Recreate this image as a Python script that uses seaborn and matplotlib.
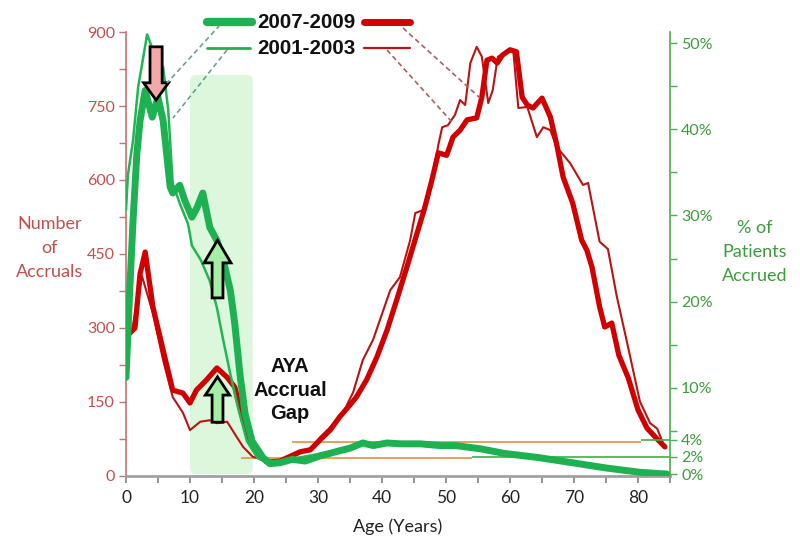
import numpy as np
import pandas as pd
import matplotlib
matplotlib.use("Agg")
import matplotlib.pyplot as plt
import seaborn as sns
from matplotlib.lines import Line2D
from matplotlib.patches import FancyArrow, FancyBboxPatch

# ---------------- data ----------------
# Number of accruals (left axis), 2007-2009 (thick red)
red_0709_age = [0, 1.1, 1.4, 2.2, 3.0, 4.2, 5.8, 7.3, 8.9, 10.0, 11.0, 12.6, 14.2, 15.8, 17.0,
                18.3, 19.8, 22.0, 24.0, 27.2, 28.8, 30.3, 31.9, 33.4, 35.0, 36.0, 37.6, 39.2,
                40.8, 42.3, 43.9, 45.5, 46.7, 47.8, 48.8, 50.1, 51.1, 52.2, 53.3, 54.8, 55.6,
                56.4, 57.2, 58.0, 58.8, 60.0, 61.0, 61.9, 62.7, 63.6, 65.0, 66.3, 67.3, 68.3,
                69.8, 71.2, 72.0, 72.8, 74.0, 74.8, 75.9, 77.0, 78.5, 80.0, 81.4, 82.7, 84.2]
red_0709_n = [282, 296, 300, 410, 454, 343, 255, 174, 168, 148, 174, 195, 219, 200, 180,
              113, 59, 28, 30, 49, 53, 73, 93, 120, 144, 160, 195, 241,
              296, 357, 424, 493, 545, 600, 655, 650, 687, 701, 722, 726, 768,
              843, 847, 837, 853, 864, 860, 768, 752, 746, 766, 728, 672, 606,
              553, 478, 458, 424, 343, 302, 310, 245, 198, 134, 97, 79, 59]

# Number of accruals (left axis), 2001-2003 (thin red)
red_0103_age = [0, 1.0, 2.5, 4.2, 5.8, 7.3, 8.9, 10.0, 11.6, 13.1, 14.2, 15.8, 17.3, 18.3,
                19.8, 21.7, 24.0, 27.0, 29.0, 30.3, 32.0, 34.0, 35.5, 37.0, 38.6, 41.3, 42.8,
                44.4, 45.2, 46.4, 47.2, 47.8, 48.8, 49.4, 50.3, 51.4, 52.2, 53.0, 53.8, 54.8,
                55.6, 56.6, 57.3, 58.1, 59.5, 60.5, 61.3, 62.7, 64.2, 65.2, 66.3, 67.3, 69.4,
                71.4, 72.2, 74.0, 75.3, 76.7, 78.2, 80.3, 81.9, 83.0, 83.9]
red_0103_n = [280, 300, 405, 330, 235, 160, 128, 93, 110, 113, 107, 110, 79, 59,
              39, 32, 28, 45, 58, 78, 100, 130, 170, 235, 276, 377, 403,
              478, 533, 539, 560, 600, 671, 707, 711, 732, 762, 752, 837, 870,
              850, 756, 782, 850, 860, 864, 746, 748, 687, 707, 701, 667, 634,
              590, 594, 475, 460, 363, 276, 151, 107, 96, 67]

# % of patients accrued (right axis), 2007-2009 (thick green)
grn_0709_age = [0, 0.6, 1.1, 1.7, 2.2, 3.0, 4.1, 5.0, 5.8, 6.9, 7.3, 8.4, 9.2, 10.3, 11.1,
                12.0, 13.1, 14.2, 15.2, 16.3, 17.0, 17.8, 18.6, 19.7, 21.4, 22.5, 24.0, 26.0,
                28.0, 30.3, 31.9, 33.4, 35.0, 37.0, 38.6, 40.8, 42.8, 46.0, 49.0, 51.5, 55.6,
                59.0, 64.5, 69.8, 75.0, 80.3, 83.3, 84.5]
grn_0709_pct = [11.2, 21.6, 29.4, 37.2, 41.0, 44.5, 41.4, 43.7, 41.0, 33.3, 32.6, 33.5, 31.7,
                29.8, 30.9, 32.6, 28.6, 27.1, 24.8, 21.3, 17.4, 11.6, 7.0, 3.8, 1.9, 1.2, 1.3,
                1.7, 1.5, 2.1, 2.4, 2.7, 3.0, 3.6, 3.3, 3.6, 3.5, 3.5, 3.3, 3.3, 2.9,
                2.4, 1.9, 1.3, 0.7, 0.2, 0.05, 0.0]

# % of patients accrued (right axis), 2001-2003 (thin green)
grn_0103_age = [0, 0.3, 1.1, 1.9, 3.3, 4.5, 5.8, 6.6, 7.3, 8.4, 9.7, 10.3, 11.7, 13.1, 14.2,
                15.2, 16.3, 17.5, 18.9, 20.5, 22.0, 24.0, 27.0, 30.0, 33.0, 36.0, 40.0, 43.0,
                47.0, 52.0, 56.0, 60.0, 65.0, 70.0, 75.0, 80.0, 84.0]
grn_0103_pct = [30.6, 34.7, 38.7, 44.9, 51.0, 48.6, 47.2, 42.2, 33.7, 31.4, 29.0, 26.5, 24.8,
                22.4, 19.3, 15.5, 11.6, 7.7, 3.8, 1.9, 1.3, 1.2, 1.9, 2.3, 2.8, 3.3, 3.7, 3.7,
                3.4, 3.1, 2.7, 2.3, 1.8, 1.3, 0.8, 0.2, 0.0]

x_ticks = list(range(0, 86, 5))
x_labels = [str(t) if t % 10 == 0 else "" for t in x_ticks]
left_ticks = list(range(0, 901, 75))
left_labels = [str(t) if t % 150 == 0 else "" for t in left_ticks]
right_ticks = [0, 2, 4, 10, 20, 30, 40, 50]
right_labels = [f"{t}%" for t in right_ticks]
right_minor = [5, 15, 25, 35, 45]

legend_labels = ["2007-2009", "2001-2003"]

# ---------------- style ----------------
sns.set_style("white")
plt.rcParams['font.family'] = ['Lato', 'DejaVu Sans']

RED = "#d00000"
RED_THIN = "#b81414"
GREEN = "#1db152"
GREEN_THIN = "#22b455"
RED_TXT = "#c0504d"
GREEN_TXT = "#3d9b3d"

fig = plt.figure(figsize=(8, 5.49), dpi=100)
ax = fig.add_axes([0.1575, 0.1330, 0.68, 0.8087])
ax.set_xlim(0, 85)
ax.set_ylim(0, 900)

# shaded AYA region
shade = FancyBboxPatch((10, 4), 9.8, 809, boxstyle="round,pad=0,rounding_size=0.9",
                       mutation_aspect=13, fc="#dcf7dc", ec="none", zorder=0)
ax.add_patch(shade)

# reference lines
ax.hlines(69, 26, 80.5, color="#e8903a", lw=1.2, zorder=1)
ax.hlines(36, 18, 54, color="#e8903a", lw=1.2, zorder=1)

df_r1 = pd.DataFrame({"age": red_0709_age, "n": red_0709_n})
df_r2 = pd.DataFrame({"age": red_0103_age, "n": red_0103_n})
sns.lineplot(data=df_r2, x="age", y="n", ax=ax, color=RED_THIN, lw=1.5, sort=False,
             estimator=None, zorder=3)
sns.lineplot(data=df_r1, x="age", y="n", ax=ax, color=RED, lw=3.8, sort=False,
             estimator=None, zorder=4, solid_joinstyle="round")

ax2 = ax.twinx()
ax2.set_ylim(-0.23, 51.28)
ax2.set_xlim(0, 85)
ax2.hlines([4], 80.5, 85, color="#3cb04a", lw=1.2, zorder=1)
ax2.hlines([2], 54, 85, color="#3cb04a", lw=1.2, zorder=1)
df_g1 = pd.DataFrame({"age": grn_0709_age, "p": grn_0709_pct})
df_g2 = pd.DataFrame({"age": grn_0103_age, "p": grn_0103_pct})
sns.lineplot(data=df_g2, x="age", y="p", ax=ax2, color=GREEN_THIN, lw=1.8, sort=False,
             estimator=None, zorder=3)
sns.lineplot(data=df_g1, x="age", y="p", ax=ax2, color=GREEN, lw=5.0, sort=False,
             estimator=None, zorder=4, solid_joinstyle="round")

# arrows (on top), positioned in left-axis units converted to the right axis
def to_pct(v):
    return v / 900 * 51.51 - 0.23


arrow_kw = dict(length_includes_head=True, lw=2, ec="black", zorder=10)
ax2.add_patch(FancyArrow(4.7, to_pct(870), 0, to_pct(762) - to_pct(870),
                         width=1.9, head_width=3.9, head_length=35 / 900 * 51.51,
                         fc="#f4a9a8", **arrow_kw))
ax2.add_patch(FancyArrow(14.3, to_pct(361), 0, to_pct(478) - to_pct(361),
                         width=1.7, head_width=4.2, head_length=46 / 900 * 51.51,
                         fc="#a6eea6", **arrow_kw))
ax2.add_patch(FancyArrow(14.3, to_pct(109), 0, to_pct(201) - to_pct(109),
                         width=1.7, head_width=3.8, head_length=37 / 900 * 51.51,
                         fc="#a6eea6", **arrow_kw))

ax2.text(25.6, to_pct(174), "AYA\nAccrual\nGap", ha="center", va="center",
         fontsize=14.5, fontweight="bold", family=["Liberation Sans", "DejaVu Sans"],
         linespacing=1.3, color="#111111", zorder=11)

# ---------------- axes styling ----------------
for a in (ax, ax2):
    a.set_xlabel("")
    a.set_ylabel("")
    a.spines["top"].set_visible(False)

ax.spines["right"].set_visible(False)
ax.spines["left"].set_color("#c87070")
ax.spines["left"].set_linewidth(1.2)
ax.spines["bottom"].set_color("#a0a0a0")
ax.spines["bottom"].set_linewidth(2)
ax2.spines["left"].set_visible(False)
ax2.spines["bottom"].set_visible(False)
ax2.spines["right"].set_color("#4cae4c")
ax2.spines["right"].set_linewidth(1.2)

ax.set_xticks(x_ticks)
ax.set_xticklabels(x_labels, fontsize=12.5, color="#222222")
ax.tick_params(axis="x", direction="out", length=5, width=1.2, color="#808080", pad=5,
               bottom=True)
ax.set_yticks(left_ticks)
ax.set_yticklabels(left_labels, fontsize=11.5, color=RED_TXT)
ax.tick_params(axis="y", direction="out", length=5, width=1.0, color="#c87070", pad=3,
               left=True)

ax2.set_yticks(right_ticks)
ax2.set_yticklabels(right_labels, fontsize=11.5, color=GREEN_TXT)
ax2.set_yticks(right_minor, minor=True)
ax2.tick_params(axis="y", which="both", direction="out", length=5, width=1.0,
                color="#4cae4c", pad=3, right=True)

ax.set_xlabel("Age (Years)", fontsize=13, color="#222222", labelpad=9)

fig.text(50 / 800, 1 - 248 / 549, "Number\nof\nAccruals", ha="center", va="center",
         fontsize=13, color=RED_TXT, linespacing=1.6)
fig.text(755 / 800, 1 - 252 / 549, "% of\nPatients\nAccrued", ha="center", va="center",
         fontsize=13, color=GREEN_TXT, linespacing=1.6)

# ---------------- custom legend ----------------
def fx(px):
    return px / 800


def fy(py):
    return 1 - py / 549


fig.add_artist(Line2D([fx(207), fx(252)], [fy(22), fy(22)], color=GREEN, lw=6,
                      solid_capstyle="round"))
fig.add_artist(Line2D([fx(364), fx(410)], [fy(22), fy(22)], color=RED, lw=5,
                      solid_capstyle="round"))
fig.add_artist(Line2D([fx(207), fx(250)], [fy(48), fy(48)], color=GREEN, lw=2))
fig.add_artist(Line2D([fx(364), fx(410)], [fy(48), fy(48)], color=RED_THIN, lw=1.6))
fig.text(fx(306), fy(22), legend_labels[0], ha="center", va="center", fontsize=14.8,
         fontweight="bold", family=["Liberation Sans", "DejaVu Sans"], color="#111111")
fig.text(fx(306), fy(48), legend_labels[1], ha="center", va="center", fontsize=14.8,
         fontweight="bold", family=["Liberation Sans", "DejaVu Sans"], color="#111111")

# dashed connectors
dash_kw = dict(lw=1.2, ls=(0, (3, 2)))
fig.add_artist(Line2D([fx(220), fx(167)], [fy(25), fy(83)], color="#6aa090", **dash_kw))
fig.add_artist(Line2D([fx(227), fx(173)], [fy(50), fy(118)], color="#6aa090", **dash_kw))
fig.add_artist(Line2D([fx(403), fx(480)], [fy(28), fy(98)], color="#a86060", **dash_kw))
fig.add_artist(Line2D([fx(387), fx(452)], [fy(50), fy(122)], color="#a86060", **dash_kw))

fig.savefig("out.png", dpi=100)
